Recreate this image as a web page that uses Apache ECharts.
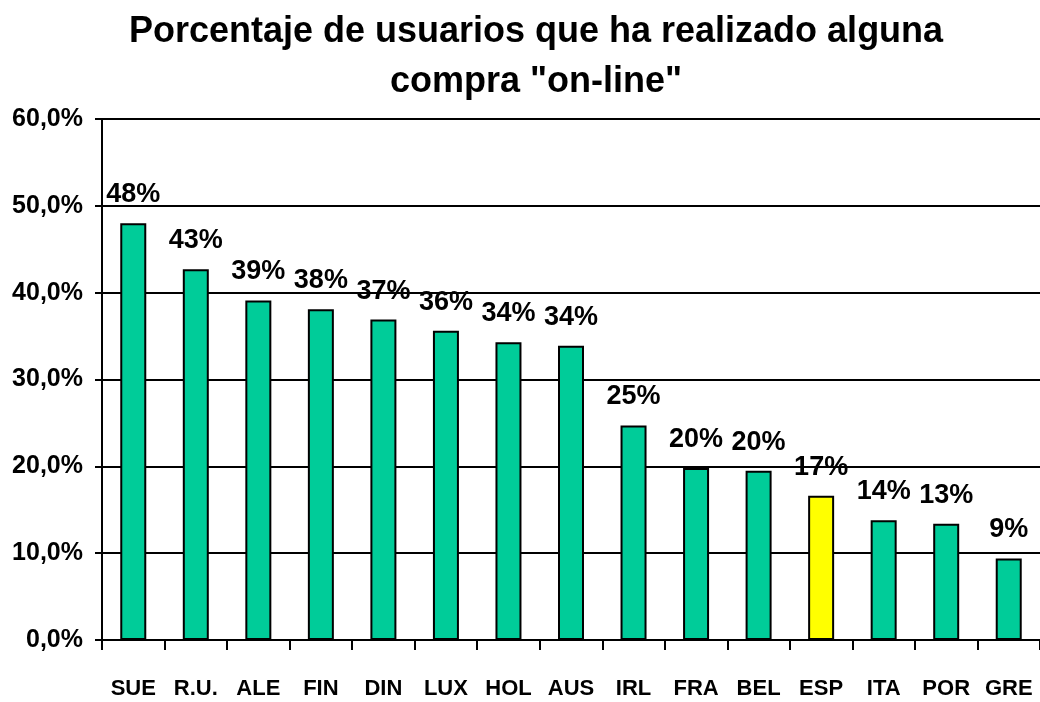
<!DOCTYPE html>
<html><head><meta charset="utf-8">
<script src="https://cdn.jsdelivr.net/npm/echarts@6/dist/echarts.min.js"></script>
<style>html,body{margin:0;padding:0;background:#fff}#c{width:1040px;height:702px}</style>
</head><body><div id="c"></div>
<script>
const titleText = 'Porcentaje de usuarios que ha realizado alguna\ncompra "on-line"';
const categories = ['SUE','R.U.','ALE','FIN','DIN','LUX','HOL','AUS','IRL','FRA','BEL','ESP','ITA','POR','GRE'];
const values = [48.0, 42.7, 39.1, 38.1, 36.9, 35.6, 34.3, 33.9, 24.7, 19.8, 19.5, 16.6, 13.8, 13.4, 9.4];
const highlight = 'ESP';
const yTicks = [0, 10, 20, 30, 40, 50, 60];

const green = '#00CC99', yellow = '#FFFF00';
const FONT = '"Liberation Sans", Arial, sans-serif';
const chart = echarts.init(document.getElementById('c'));
chart.setOption({
  animation: false,
  backgroundColor: '#fff',
  title: {
    text: titleText, left: 531, textAlign: 'center', top: 2,
    textStyle: {fontFamily: FONT, fontWeight: 'bold', fontSize: 36, lineHeight: 50, color: '#000', align: 'center'}
  },
  grid: {left: 102, right: 0, top: 119, bottom: 62, containLabel: false},
  xAxis: {
    type: 'category', data: categories,
    axisLine: {lineStyle: {color: '#000', width: 2}},
    axisTick: {show: true, length: 10, lineStyle: {color: '#000', width: 2}},
    axisLabel: {interval: 0, margin: 38, fontFamily: FONT, fontWeight: 'bold', fontSize: 22, color: '#000'}
  },
  yAxis: {
    type: 'value', min: yTicks[0], max: yTicks[yTicks.length-1], interval: 10,
    axisLine: {show: true, lineStyle: {color: '#000', width: 2}},
    axisTick: {show: true, length: 7, lineStyle: {color: '#000', width: 2}},
    splitLine: {lineStyle: {color: '#000', width: 2}},
    axisLabel: {margin: 19, fontFamily: FONT, fontWeight: 'bold', fontSize: 25, color: '#000',
      formatter: v => v.toFixed(1).replace('.', ',') + '%'}
  },
  series: [{
    type: 'bar', barWidth: 26,
    data: values.map((v, i) => ({value: v, itemStyle: {color: categories[i] === highlight ? yellow : green}})),
    itemStyle: {borderColor: '#000', borderWidth: 2},
    label: {show: true, position: 'top', distance: 15, fontFamily: FONT, fontWeight: 'bold', fontSize: 27, color: '#000',
      formatter: p => Math.round(p.value) + '%'}
  }]
});
</script></body></html>
